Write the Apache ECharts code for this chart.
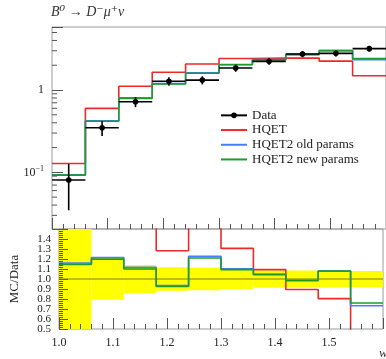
<!DOCTYPE html>
<html>
<head>
<meta charset="utf-8">
<script src="https://cdn.jsdelivr.net/npm/echarts@6/dist/echarts.min.js"></script>
<style>
  html, body { margin: 0; padding: 0; background: #fff; }
  #chart { width: 386px; height: 359px; }
</style>
</head>
<body>
<div id="chart"></div>
<script>
// Recoil variable w binning (10 bins)
const binEdges = [1.00, 1.06, 1.12, 1.18, 1.24, 1.30, 1.36, 1.42, 1.48, 1.54, 1.60];

// Measured normalised distribution and its uncertainty
const dataValues = [0.0806, 0.348, 0.720, 1.280, 1.320, 1.850, 2.230, 2.740, 2.790, 3.180];
const dataErrors = [0.046, 0.072, 0.100, 0.150, 0.150, 0.185, 0.196, 0.233, 0.237, 0.254];

// Model predictions
const hqet      = [0.128, 0.599, 1.110, 1.642, 2.070, 2.416, 2.440, 2.452, 2.243, 1.490];
const hqet2Old  = [0.0935, 0.423, 0.804, 1.197, 1.621, 2.040, 2.340, 2.710, 3.010, 2.330];
const hqet2New  = [0.0924, 0.417, 0.792, 1.184, 1.597, 2.024, 2.326, 2.693, 3.013, 2.417];

// Axis ranges and labelled ticks (ratio labels are split over two stacked label rows)
const mainRange = [0.0205, 5.83];
const ratioRange = [0.5, 1.5];
const ratioLabelsOdd  = [0.5, 0.7, 0.9, 1.1, 1.3];
const ratioLabelsEven = [0.6, 0.8, 1.0, 1.2, 1.4];

const SERIF = '"Liberation Serif", "DejaVu Serif", serif';
const X_MIN = binEdges[0];
const X_MAX = binEdges[binEdges.length - 1];
const TICK = '#555';
const FRAME = '#9a9a9a';

const COLORS = { data: '#000000', hqet: '#f02828', old: '#4a7cff', neu: '#1f9a2c' };

function stepPoints(vals) {
  const pts = [];
  vals.forEach((v, i) => { pts.push([binEdges[i], v], [binEdges[i + 1], v]); });
  return pts;
}
function ratioOf(vals) { return vals.map((v, i) => v / dataValues[i]); }

// Minor log ticks (2..9 x 10^k) inside the main y range
const logMinor = [];
for (let k = -2; k <= 0; k++) {
  for (let m = 2; m <= 9; m++) {
    const v = m * Math.pow(10, k);
    if (v >= mainRange[0] && v <= mainRange[1]) logMinor.push([X_MIN, v]);
  }
}

const pointItems = dataValues.map((v, i) => [binEdges[i], binEdges[i + 1], (binEdges[i] + binEdges[i + 1]) / 2, v, dataErrors[i]]);
const bandItems = dataValues.map((v, i) => [binEdges[i], binEdges[i + 1], 1 - dataErrors[i] / v, 1 + dataErrors[i] / v]);

const chart = echarts.init(document.getElementById('chart'));

const xCommon = {
  type: 'value', min: X_MIN, max: X_MAX, interval: 0.1, z: 10,
  axisLine: { show: false },
  splitLine: { show: false },
  axisTick: { inside: true, length: 11, lineStyle: { color: TICK, width: 1 } },
  minorTick: { show: true, splitNumber: 5, length: 5, lineStyle: { color: TICK, width: 1 } }
};

const ratioLabelStyle = { margin: 8, fontFamily: SERIF, fontSize: 11, color: '#222', showMinLabel: true, showMaxLabel: true, formatter: v => v.toFixed(1) };

const lineLegend = name => ({ name: name, itemStyle: { opacity: 0 } });

const option = {
  backgroundColor: '#fff',
  animation: false,
  grid: [
    { left: 52, top: 27, width: 335, height: 202, show: true, borderColor: FRAME, borderWidth: 1, backgroundColor: 'transparent' },
    { left: 52, top: 229, width: 335, height: 100, show: true, borderColor: FRAME, borderWidth: 1, backgroundColor: 'transparent' }
  ],
  xAxis: [
    Object.assign({}, xCommon, { gridIndex: 0, axisLabel: { show: false } }),
    Object.assign({}, xCommon, {
      gridIndex: 1,
      axisLabel: {
        margin: 8, fontFamily: SERIF, fontSize: 12, color: '#222', showMinLabel: true,
        formatter: v => (v > X_MAX - 0.05 ? '' : v.toFixed(1))
      }
    })
  ],
  yAxis: [
    {
      type: 'log', logBase: 10, gridIndex: 0, min: mainRange[0], max: mainRange[1], z: 10,
      axisLine: { show: false }, splitLine: { show: false },
      axisTick: { inside: true, length: 11, lineStyle: { color: TICK } },
      axisLabel: {
        margin: 8, fontFamily: SERIF, fontSize: 12, color: '#222',
        formatter: v => {
          const e = Math.round(Math.log10(v));
          if (Math.abs(Math.log10(v) - e) > 1e-6) return '';
          if (e === 0) return '1';
          return '10{s|−' + (-e) + '}';
        },
        rich: { s: { fontFamily: SERIF, fontSize: 8, verticalAlign: 'top', padding: [0, 0, 6, 0] } }
      }
    },
    {
      type: 'value', gridIndex: 1, min: ratioRange[0], max: ratioRange[1], interval: 0.1, z: 10,
      name: 'MC/Data', nameLocation: 'middle', nameGap: 38, nameRotate: 90,
      nameTextStyle: { fontFamily: SERIF, fontSize: 13, color: '#222' },
      axisLine: { show: false }, splitLine: { show: false },
      axisTick: { inside: true, length: 9, lineStyle: { color: TICK } },
      minorTick: { show: true, splitNumber: 5, length: 4, lineStyle: { color: TICK } },
      axisLabel: Object.assign({ customValues: ratioLabelsOdd }, ratioLabelStyle)
    },
    {
      type: 'value', gridIndex: 1, position: 'left', offset: 0, min: ratioRange[0], max: ratioRange[1], interval: 0.1, z: 10,
      axisLine: { show: false }, splitLine: { show: false }, axisTick: { show: false },
      axisLabel: Object.assign({ customValues: ratioLabelsEven }, ratioLabelStyle)
    }
  ],
  legend: {
    orient: 'vertical', left: 215, top: 103,
    itemWidth: 26, itemHeight: 7, itemGap: 0,
    textStyle: { fontFamily: SERIF, fontSize: 13, color: '#222', lineHeight: 14.7 },
    data: ['Data', lineLegend('HQET'), lineLegend('HQET2 old params'), lineLegend('HQET2 new params')]
  },
  graphic: [
    { type: 'text', left: 51, top: 5, style: { text: 'B⁰ → D⁻μ⁺ν', font: 'italic 14px ' + SERIF, fill: '#333' } },
    { type: 'text', left: 379, top: 347, style: { text: 'w', font: 'italic 13px ' + SERIF, fill: '#333' } }
  ],
  series: [
    // legend entry for the measurement
    { name: 'Data', type: 'line', xAxisIndex: 0, yAxisIndex: 0, data: [], color: COLORS.data,
      symbol: 'circle', symbolSize: 6, lineStyle: { width: 1.6, color: COLORS.data } },
    { name: 'HQET', type: 'line', xAxisIndex: 0, yAxisIndex: 0, data: stepPoints(hqet), symbol: 'none',
      color: COLORS.hqet, lineStyle: { width: 1.6 }, z: 3 },
    { name: 'HQET2 old params', type: 'line', xAxisIndex: 0, yAxisIndex: 0, data: stepPoints(hqet2Old), symbol: 'none',
      color: COLORS.old, lineStyle: { width: 1.6 }, z: 4 },
    { name: 'HQET2 new params', type: 'line', xAxisIndex: 0, yAxisIndex: 0, data: stepPoints(hqet2New), symbol: 'none',
      color: COLORS.neu, lineStyle: { width: 1.6 }, z: 5 },
    // measured points with bin-width bars and error bars
    {
      name: 'Data points', type: 'custom', xAxisIndex: 0, yAxisIndex: 0, z: 6,
      encode: { x: 2, y: 3 },
      data: pointItems,
      renderItem: (params, api) => {
        const x0 = api.value(0), x1 = api.value(1), xc = api.value(2), v = api.value(3), e = api.value(4);
        const c = api.coord([xc, v]);
        const l = api.coord([x0, v]);
        const r = api.coord([x1, v]);
        const t = api.coord([xc, v + e]);
        const b = api.coord([xc, v - e]);
        const st = { stroke: COLORS.data, lineWidth: 1.6 };
        return {
          type: 'group',
          children: [
            { type: 'line', shape: { x1: l[0], y1: l[1], x2: r[0], y2: r[1] }, style: st },
            { type: 'line', shape: { x1: t[0], y1: t[1], x2: b[0], y2: b[1] }, style: st },
            { type: 'circle', shape: { cx: c[0], cy: c[1], r: 2.8 }, style: { fill: COLORS.data } }
          ]
        };
      }
    },
    // minor ticks of the logarithmic axis
    {
      name: 'log minor ticks', type: 'custom', xAxisIndex: 0, yAxisIndex: 0, z: 10, silent: true,
      data: logMinor,
      renderItem: (params, api) => {
        const p = api.coord([api.value(0), api.value(1)]);
        return { type: 'line', shape: { x1: p[0], y1: p[1], x2: p[0] + 5, y2: p[1] }, style: { stroke: TICK, lineWidth: 1 } };
      }
    },
    // ratio panel: data uncertainty band
    {
      name: 'Data band', type: 'custom', xAxisIndex: 1, yAxisIndex: 1, z: 1, clip: true, silent: true,
      data: bandItems,
      renderItem: (params, api) => {
        const a = api.coord([api.value(0), api.value(3)]);
        const b = api.coord([api.value(1), api.value(2)]);
        return { type: 'rect', shape: { x: a[0], y: a[1], width: b[0] - a[0], height: b[1] - a[1] }, style: { fill: '#ffff00' } };
      }
    },
    {
      name: 'Unity', type: 'line', xAxisIndex: 1, yAxisIndex: 1, data: [[X_MIN, 1], [X_MAX, 1]], symbol: 'none',
      lineStyle: { color: 'rgba(0,0,0,0.5)', width: 1 }, z: 2, silent: true
    },
    { name: 'HQET', type: 'line', xAxisIndex: 1, yAxisIndex: 1, data: stepPoints(ratioOf(hqet)), symbol: 'none',
      color: COLORS.hqet, lineStyle: { width: 1.6 }, z: 3, clip: true },
    { name: 'HQET2 old params', type: 'line', xAxisIndex: 1, yAxisIndex: 1, data: stepPoints(ratioOf(hqet2Old)), symbol: 'none',
      color: COLORS.old, lineStyle: { width: 1.6 }, z: 4, clip: true },
    { name: 'HQET2 new params', type: 'line', xAxisIndex: 1, yAxisIndex: 1, data: stepPoints(ratioOf(hqet2New)), symbol: 'none',
      color: COLORS.neu, lineStyle: { width: 1.6 }, z: 5, clip: true }
  ]
};

chart.setOption(option);
</script>
</body>
</html>
